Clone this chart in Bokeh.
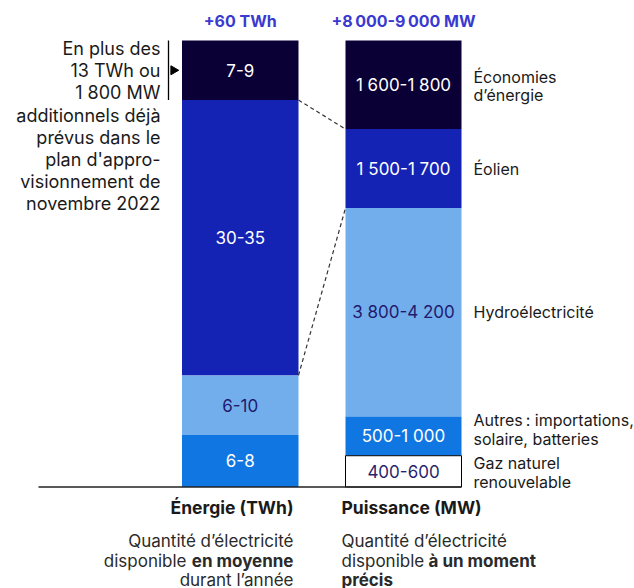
import numpy as np
from bokeh.plotting import figure
from bokeh.models import Range1d, ColumnDataSource
from bokeh.core.properties import value
from bokeh.embed import file_html
from bokeh.resources import INLINE

# ---------------- data ----------------
categories = ["Économies d'énergie", "Éolien", "Hydroélectricité", "Autres", "Gaz naturel renouvelable"]
energy_labels = ["7-9", "30-35", "6-10", "6-8"]
energy_values = [8, 37, 8, 7]            # TWh, drawn size (total 60)
power_labels = ["1 600-1 800", "1 500-1 700", "3 800-4 200", "500-1 000", "400-600"]
power_values = [1700, 1515, 4000, 750, 600]   # MW, drawn size
energy_total_label = "+60 TWh"
power_total_label = "+8\u2009000-9\u2009000 MW"
right_labels = [["Économies", "d\u2019énergie"], ["Éolien"], ["Hydroélectricité"],
                ["Autres\u2009: importations,", "solaire, batteries"], ["Gaz naturel", "renouvelable"]]
note_lines = ["En plus des", "13 TWh ou", "1 800 MW", "additionnels déjà", "prévus dans le",
              "plan d'appro-", "visionnement de", "novembre 2022"]

# ---------------- style ----------------
FONT = "Inter"
DARK = "#0a0036"
BLUE = "#1423b4"
LIGHT = "#73aeec"
MID = "#1077e2"
TITLE_C = "#3a3ad0"
TXT = "#1a1a1a"
energy_colors = [DARK, BLUE, LIGHT, MID]
power_colors = [DARK, BLUE, LIGHT, MID, "white"]
energy_text_colors = ["white", "white", "#1f1a6e", "white"]
power_text_colors = ["white", "white", "#1f1a6e", "white", "#2a1f6e"]
label_shift_px = [-1, 0, 0, 6.5, -1]   # vertical nudges of the right-hand labels

W, H = 634, 588
Y0, Y1 = 486.5, 40.0   # screen rows of value 0 and value 1
PX = 1.0 / (Y0 - Y1)


def vy(ys):
    return (Y0 - ys) / (Y0 - Y1)


p = figure(width=W, height=H, output_backend="svg", toolbar_location=None,
           x_range=Range1d(0, W), y_range=Range1d(vy(H), vy(0)),
           min_border=0, outline_line_color=None)
p.axis.visible = False
p.grid.visible = False
p.background_fill_color = "white"


def stack(vals):
    tot = float(sum(vals))
    c = np.concatenate([[0], np.cumsum(vals)]) / tot
    top = 1 - c[:-1]
    bot = 1 - c[1:]
    return top, bot


eL, eR = 181.5, 298.0
pL, pR = 345.0, 461.0

et, eb = stack(energy_values)
pt, pb = stack(power_values)

src_e = ColumnDataSource(dict(left=[eL] * len(et), right=[eR] * len(et), top=et, bottom=eb,
                              color=energy_colors, label=energy_labels,
                              x=[(eL + eR) / 2] * len(et), y=(et + eb) / 2, tc=energy_text_colors))
src_p = ColumnDataSource(dict(left=[pL] * len(pt), right=[pR] * len(pt), top=pt, bottom=pb,
                              color=power_colors, label=power_labels,
                              x=[(pL + pR) / 2] * len(pt), y=(pt + pb) / 2, tc=power_text_colors,
                              lc=[None] * 4 + ["black"]))

p.quad(left="left", right="right", top="top", bottom="bottom", fill_color="color",
       line_color=None, source=src_e)
p.quad(left="left", right="right", top="top", bottom="bottom", fill_color="color",
       line_color="lc", line_width=1, source=src_p)

for s in (src_e, src_p):
    p.text(x="x", y="y", text="label", text_color="tc", text_align="center",
           text_baseline="middle", text_font=value(FONT), text_font_size="17px", source=s)

# dashed connectors for the wind segment
p.segment(x0=[eR, eR], y0=[et[1], eb[1]], x1=[pL, pL], y1=[pt[1], pb[1]],
          line_color="#333333", line_width=1.2, line_dash="4 3")

# baseline
p.segment(x0=[38], y0=[0], x1=[pR], y1=[0], line_color="#222222", line_width=1.5)

# totals on top
p.text(x=[(eL + eR) / 2, (pL + pR) / 2], y=[vy(20)] * 2, text=[energy_total_label, power_total_label],
       text_color=TITLE_C, text_align="center", text_baseline="middle",
       text_font=value(FONT), text_font_size="16px", text_font_style="bold")

# right labels
LS = 18.5 * PX
rx, ry, rt = [], [], []
for i, lines in enumerate(right_labels):
    mid = (pt[i] + pb[i]) / 2 + label_shift_px[i] * PX
    n = len(lines)
    for k, t in enumerate(lines):
        rx.append(473)
        ry.append(mid + (n - 1) / 2 * LS - k * LS)
        rt.append(t)
p.text(x=rx, y=ry, text=rt, text_color=TXT, text_align="left", text_baseline="middle",
       text_font=value(FONT), text_font_size="16px")

# left note
p.text(x=[160] * len(note_lines), y=[vy(48 + 22.2 * k) for k in range(len(note_lines))], text=note_lines,
       text_color=TXT, text_align="right", text_baseline="middle",
       text_font=value(FONT), text_font_size="18px")
p.segment(x0=[168], y0=[et[0]], x1=[168], y1=[eb[0]], line_color="black", line_width=1.3)
p.scatter(x=[173], y=[(et[0] + eb[0]) / 2], marker="triangle", size=9, angle=-np.pi / 2,
          fill_color="black", line_color="black")

# bottom titles
TL, TR = 293, 341
p.text(x=[TL], y=[vy(507)], text=["Énergie (TWh)"], text_color=TXT, text_align="right",
       text_baseline="middle", text_font=value(FONT), text_font_size="17.5px", text_font_style="bold")
p.text(x=[TR], y=[vy(507)], text=["Puissance (MW)"], text_color=TXT, text_align="left",
       text_baseline="middle", text_font=value(FONT), text_font_size="17.5px", text_font_style="bold")

# descriptions
common = dict(text_color="#2a2a2a", text_baseline="middle", text_font=value(FONT), text_font_size="17px")
p.text(x=[TL], y=[vy(540)], text=["Quantité d\u2019électricité"], text_align="right", **common)
p.text(x=[186], y=[vy(560)], text=["disponible"], text_align="right", **common)
p.text(x=[TL], y=[vy(560)], text=["en moyenne"], text_align="right", text_font_style="bold", **common)
p.text(x=[TL], y=[vy(579)], text=["durant l\u2019année"], text_align="right", **common)
p.text(x=[TR], y=[vy(540)], text=["Quantité d\u2019électricité"], text_align="left", **common)
p.text(x=[TR], y=[vy(560)], text=["disponible"], text_align="left", **common)
p.text(x=[428], y=[vy(560)], text=["à un moment"], text_align="left", text_font_style="bold", **common)
p.text(x=[TR], y=[vy(579)], text=["précis"], text_align="left", text_font_style="bold", **common)

open("out.html", "w").write(file_html(p, INLINE))
